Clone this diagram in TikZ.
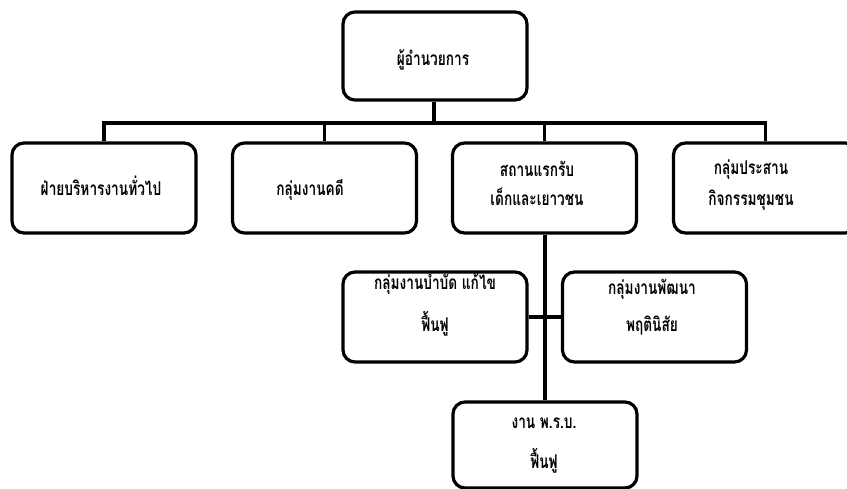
\documentclass[tikz,border=0pt]{standalone}
\usepackage{fontspec}
\newfontfamily\thaifont[Script=Thai,FakeStretch=0.72]{Loma}
\begin{document}
\begin{tikzpicture}[x=1pt,y=-1pt,
  box/.style={draw, line width=3.2pt, rounded corners=12pt, minimum width=184pt,
              minimum height=88pt, inner sep=0pt, fill=white},
  lbl/.style={anchor=base, inner sep=0pt, align=center,
              font=\thaifont\bfseries\fontsize{19}{20}\selectfont},
  conn/.style={line width=3.2pt}]
\fill[white] (0,0) rectangle (847,488);
\useasboundingbox (0,0) rectangle (847,488);
\begin{scope}
\clip (0,0) rectangle (847,488);
% boxes
\node[box] (top) at (435,56) {};
\node[box, minimum height=90pt] (b1) at (104,188) {};
\node[box, minimum height=90pt] (b2) at (324.5,188) {};
\node[box, minimum height=90pt] (b3) at (544.5,188) {};
\node[box, minimum height=90pt] (b4) at (765.5,188) {};
\node[box, minimum height=90pt] (c1) at (435,317) {};
\node[box, minimum height=90pt] (c2) at (654.5,317) {};
\node[box, minimum height=86pt] (c3) at (545,445) {};
% connectors
\coordinate (j) at (434,123);
\draw[conn] (top.south -| j) -- (j);
\draw[conn] (b1.north) |- (j);
\draw[conn] (b4.north) |- (j);
\draw[conn] (b2.north) -- (b2.north |- j);
\draw[conn] (b3.north) -- (b3.north |- j);
\draw[conn] (b3.south -| c3.north) -- (c3.north);
\draw[conn] (c1.east) -- (c2.west);
% labels (base = baseline of the last line)
\node[lbl] (t0) at (433,65) {ผู้อำนวยการ};
\node[lbl] (t1) at (101,195) {ฝ่ายบริหารงานทั่วไป};
\node[lbl] (t2) at (310,195) {กลุ่มงานคดี};
\node[lbl] (t3) at (537,205) {สถานแรกรับ\\[9pt]เด็กและเยาวชน};
\node[lbl] (t4) at (751,205) {กลุ่มประสาน\\[9pt]กิจกรรมชุมชน};
\node[lbl] (t5) at (435,331) {กลุ่มงานบำบัด แก้ไข\\[15pt]ฟื้นฟู};
\node[lbl] (t6) at (652,331) {กลุ่มงานพัฒนา\\[15pt]พฤตินิสัย};
\node[lbl] (t7) at (544,468) {งาน พ.ร.บ.\\[18pt]ฟื้นฟู};
\end{scope}
\end{tikzpicture}
\end{document}
